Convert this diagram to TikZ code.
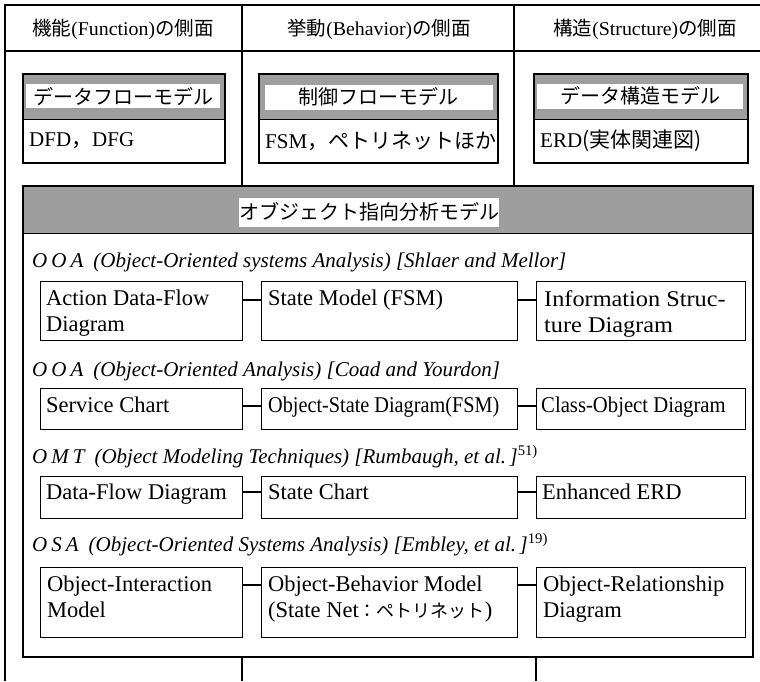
\documentclass[tikz,border=0pt]{standalone}
\usepackage{fontspec}
\setmainfont{Liberation Serif}
\newfontfamily\jp{Noto Sans CJK JP}
\newcommand\J[1]{{\jp #1}}
\newcommand\hs[2]{\scalebox{#1}[1]{#2}}
\begin{document}
\begin{tikzpicture}[x=1pt,y=-1pt,
  frame/.style={line width=1.1pt},
  divider/.style={line width=1.3pt},
  shadefill/.style={fill=black!38, draw=none, inner sep=0, anchor=north west},
  topbox/.style={draw, line width=2.1pt, inner sep=0, anchor=north west},
  bigbox/.style={draw, line width=2.1pt, inner sep=0, anchor=north west},
  rowbox/.style={draw, line width=1.4pt, inner sep=0, anchor=north west},
  whitelab/.style={fill=white, inner sep=0},
  hdr/.style={font=\fontsize{19.5}{22}\selectfont, inner sep=0},
  ttxt/.style={font=\fontsize{21}{24}\selectfont, inner sep=0},
  jtxt/.style={font=\fontsize{20}{24}\selectfont, inner sep=0},
  btxt/.style={font=\fontsize{22.5}{26}\selectfont, inner sep=0, anchor=north west, align=left},
  lbl/.style={font=\fontsize{21}{24}\selectfont\itshape, inner sep=0, anchor=base west},
  conn/.style={line width=1.3pt}
]
\useasboundingbox (0,0) rectangle (760,681);

% ---- header row frame ----
\coordinate (tl) at (5,5);
\coordinate (tr) at (760,5);
\coordinate (hl) at (5,51);
\coordinate (hr) at (760,51);
\coordinate (bl) at (5,681);
\draw[frame] (tr) -- (tl) -- (bl);
\draw[frame] (hl) -- (hr);

\node[hdr] (h1) at (123,29) {\J{機能}(\hs{1.02}{Function})\J{の側面}};
\node[hdr] (h2) at (379,29) {\J{挙動}(\hs{1.02}{Behavior})\J{の側面}};
\node[hdr] (h3) at (645,29) {\J{構造}(\hs{1.02}{Structure})\J{の側面}};

% ---- top boxes ----
\node[shadefill, minimum width=202, minimum height=46] (s1) at (22,73) {};
\node[whitelab, minimum width=194, minimum height=24, jtxt] (w1) at (s1.center) {\J{データフローモデル}};
\node[topbox, minimum width=202, minimum height=89] (t1) at (22,73) {};
\draw[line width=1.1pt] (s1.south west) -- (s1.south east);
\node[ttxt, anchor=west] (d1) at (29,141) {DFD\J{，}DFG};

\node[shadefill, minimum width=239, minimum height=46] (s2) at (258,73) {};
\node[whitelab, minimum width=228, minimum height=25, jtxt] (w2) at ([shift={(1,1)}]s2.center) {\J{制御フローモデル}};
\node[topbox, minimum width=239, minimum height=89] (t2) at (258,73) {};
\draw[line width=1.1pt] (s2.south west) -- (s2.south east);
\node[ttxt, anchor=west] (d2) at (265,141) {FSM\J{，ペトリネットほか}};

\node[shadefill, minimum width=214, minimum height=46] (s3) at (533,73) {};
\node[whitelab, minimum width=206, minimum height=25, jtxt] (w3) at (s3.center) {\J{データ構造モデル}};
\node[topbox, minimum width=214, minimum height=89] (t3) at (533,73) {};
\draw[line width=1.1pt] (s3.south west) -- (s3.south east);
\node[ttxt, anchor=west] (d3) at (540,141) {ERD\J{(実体関連図)}};

% ---- big box ----
\node[shadefill, minimum width=730, minimum height=48] (sb) at (22,185) {};
\node[whitelab, minimum width=252, minimum height=29, jtxt] (wb) at (369,212) {\J{オブジェクト指向分析モデル}};
\node[bigbox, minimum width=730, minimum height=471] (big) at (22,185) {};
\draw[line width=1.3pt] (sb.south west) -- (sb.south east);

% ---- column dividers ----
\coordinate (v1t) at (242,5);
\coordinate (v2t) at (514,5);
\draw[divider] (v1t) -- (v1t |- big.north);
\draw[divider] (v2t) -- (v2t |- big.north);
\coordinate (v1b) at (242,681);
\coordinate (v2b) at (536,681);
\draw[divider] (v1b) -- (v1b |- big.south);
\draw[divider] (v2b) -- (v2b |- big.south);

% ---- row labels ----
\node[lbl] (l1) at (32,267) {O\hspace{4pt}O\hspace{4pt}A\hspace{10pt}(Object-Oriented systems Analysis) [Shlaer and Mellor]};
\node[lbl] (l2) at (32,376) {O\hspace{4pt}O\hspace{4pt}A\hspace{10pt}(Object-Oriented Analysis) [Coad and Yourdon]};
\node[lbl] (l3) at (32,463) {O\hspace{4pt}M\hspace{4pt}T\hspace{10pt}(Object Modeling Techniques) [Rumbaugh, et al.\,]{\upshape\textsuperscript{51)}}};
\node[lbl] (l4) at (32,551) {O\hspace{4pt}S\hspace{4pt}A\hspace{10pt}(Object-Oriented Systems Analysis) [Embley, et al.\,]{\upshape\textsuperscript{19)}}};

% ---- row 1 ----
\node[rowbox, minimum width=202, minimum height=59] (b11) at (40,281) {};
\node[rowbox, minimum width=256, minimum height=59] (b12) at (261,281) {};
\node[rowbox, minimum width=209, minimum height=59] (b13) at (536,281) {};
\node[btxt] at ([shift={(6,9)}]b11.north west) {Action Data-Flow\\Diagram};
\node[btxt] at ([shift={(7,9)}]b12.north west) {State Model (FSM)};
\node[btxt] at ([shift={(8,9)}]b13.north west) {\hs{1.08}{Information Struc-}\\\hs{1.08}{ture Diagram}};
\draw[conn] ([shift={(0,19)}]b11.north east) -- ([shift={(0,19)}]b12.north west);
\draw[conn] ([shift={(0,19)}]b12.north east) -- ([shift={(0,19)}]b13.north west);

% ---- row 2 ----
\node[rowbox, minimum width=202, minimum height=41] (b21) at (40,388) {};
\node[rowbox, minimum width=256, minimum height=41] (b22) at (261,388) {};
\node[rowbox, minimum width=209, minimum height=41] (b23) at (536,388) {};
\node[btxt] at ([shift={(6,9)}]b21.north west) {Service Chart};
\node[btxt] at ([shift={(7,9)}]b22.north west) {\hs{0.9}{Object-State Diagram(FSM)}};
\node[btxt] at ([shift={(5,9)}]b23.north west) {\hs{0.92}{Class-Object Diagram}};
\draw[conn] ([shift={(0,18)}]b21.north east) -- ([shift={(0,18)}]b22.north west);
\draw[conn] ([shift={(0,18)}]b22.north east) -- ([shift={(0,18)}]b23.north west);

% ---- row 3 ----
\node[rowbox, minimum width=202, minimum height=42] (b31) at (40,476) {};
\node[rowbox, minimum width=256, minimum height=42] (b32) at (261,476) {};
\node[rowbox, minimum width=209, minimum height=42] (b33) at (536,476) {};
\node[btxt] at ([shift={(6,8)}]b31.north west) {Data-Flow Diagram};
\node[btxt] at ([shift={(7,8)}]b32.north west) {State Chart};
\node[btxt] at ([shift={(6,8)}]b33.north west) {Enhanced ERD};
\draw[conn] ([shift={(0,16)}]b31.north east) -- ([shift={(0,16)}]b32.north west);
\draw[conn] ([shift={(0,16)}]b32.north east) -- ([shift={(0,16)}]b33.north west);

% ---- row 4 ----
\node[rowbox, minimum width=202, minimum height=70] (b41) at (40,567) {};
\node[rowbox, minimum width=256, minimum height=70] (b42) at (261,567) {};
\node[rowbox, minimum width=209, minimum height=70] (b43) at (536,567) {};
\node[btxt] at ([shift={(7,9)}]b41.north west) {Object-Interaction\\Model};
\node[btxt] at ([shift={(7,9)}]b42.north west) {Object-Behavior Model\\(State Net{\jp\fontsize{18}{26}\selectfont ：ペトリネット})};
\node[btxt] at ([shift={(7,9)}]b43.north west) {Object-Relationship\\Diagram};
\draw[conn] ([shift={(0,18)}]b41.north east) -- ([shift={(0,18)}]b42.north west);
\draw[conn] ([shift={(0,18)}]b42.north east) -- ([shift={(0,18)}]b43.north west);
\end{tikzpicture}
\end{document}
